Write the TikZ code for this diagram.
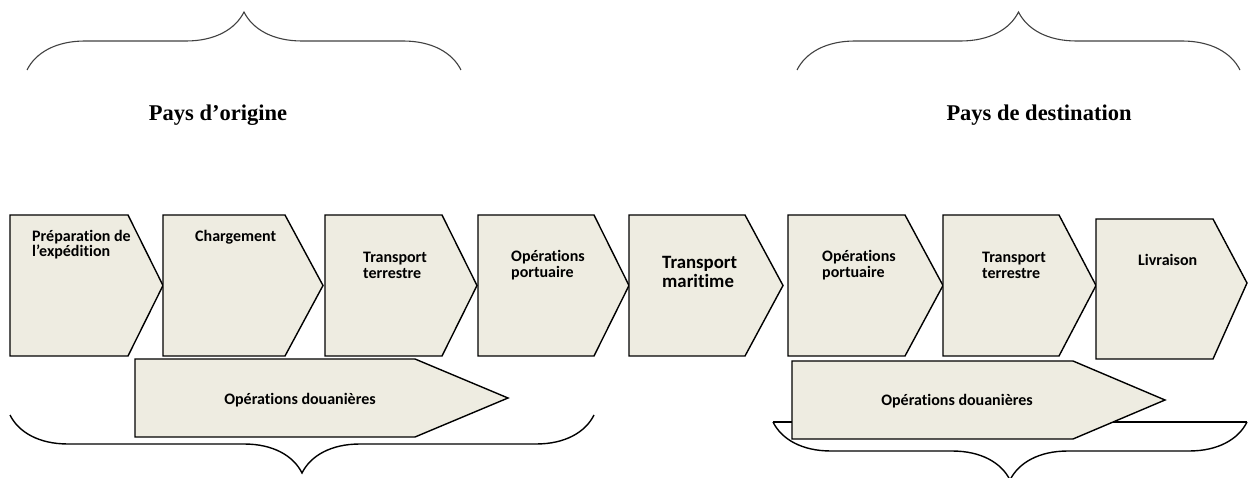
\documentclass[tikz,border=0pt]{standalone}
\usepackage{fontspec}
\setmainfont{Carlito}[Ligatures=NoCommon]
\newfontfamily\titlefont{Liberation Serif}
\usetikzlibrary{decorations.pathreplacing, backgrounds}
\definecolor{stagefill}{HTML}{EEECE1}

\begin{document}
\begin{tikzpicture}[x=1pt, y=-1pt]

    % --- Styles ---
    \tikzset{
        stage/.style={draw=black, fill=stagefill, line width=1.4pt, line join=miter},
        stagetext/.style={inner sep=0pt, align=left, font=\fontsize{16}{16}\selectfont\bfseries},
        bigtext/.style={inner sep=0pt, align=left, font=\fontsize{18.8}{19}\selectfont\bfseries},
        country/.style={inner sep=0pt, font=\fontsize{22.5}{26}\selectfont\titlefont\bfseries},
        bracket/.style={draw=black!75, line width=1.1pt, decorate, decoration={brace, amplitude=58pt}},
        lowbracket/.style={draw=black, line width=1.4pt, decorate, decoration={brace, amplitude=58pt}}
    }

    \useasboundingbox (0,0) rectangle (1248,478);

    % --- Accolades du haut ---
    \draw[bracket] (27,70) -- (461,70);
    \draw[bracket] (797,70) -- (1240,70);
    \node[country] (origin) at (218,115) {Pays d’origine};
    \node[country] (dest) at (1039,115) {Pays de destination};

    % --- Accolades du bas ---
    \draw[lowbracket] (594,415) -- (10,415);
    \draw[lowbracket] (1247,422) -- (773,422);
    \draw[draw=black, line width=1.4pt] (773,422) -- (1247,422);

    % --- Etapes ---
    \filldraw[stage] (10,215) -- (128,215) -- (163,285.5) -- (128,356) -- (10,356) -- cycle;
    \node[stagetext, anchor=west, font=\fontsize{16}{15}\selectfont\bfseries] (prep) at (32,244.5) {Préparation de\\l’expédition};

    \filldraw[stage] (163,215) -- (285,215) -- (323,285.5) -- (285,356) -- (163,356) -- cycle;
    \node[stagetext, anchor=west] (load) at (195,237) {Chargement};

    \filldraw[stage] (325,215) -- (442,215) -- (477,285.5) -- (442,356) -- (325,356) -- cycle;
    \node[stagetext, anchor=west] (land1) at (363,265) {Transport\\terrestre};

    \filldraw[stage] (478,215) -- (594,215) -- (629,285.5) -- (594,356) -- (478,356) -- cycle;
    \node[stagetext, anchor=west] (port1) at (511,265) {Opérations\\portuaire};

    \filldraw[stage] (629,215) -- (745,215) -- (783,285.5) -- (745,356) -- (629,356) -- cycle;
    \node[bigtext, anchor=west] (sea) at (662,271.5) {Transport\\maritime};

    \filldraw[stage] (788,215) -- (905,215) -- (943,285.5) -- (905,356) -- (788,356) -- cycle;
    \node[stagetext, anchor=west] (port2) at (822,265) {Opérations\\portuaire};

    \filldraw[stage] (943,215) -- (1059,215) -- (1096,285.5) -- (1059,356) -- (943,356) -- cycle;
    \node[stagetext, anchor=west] (land2) at (982,265) {Transport\\terrestre};

    \filldraw[stage] (1096,219) -- (1213,219) -- (1247,283) -- (1213,359) -- (1096,359) -- cycle;
    \node[stagetext, anchor=west] (deliv) at (1138,260) {Livraison};

    % --- Douane ---
    \filldraw[stage] (135,359) -- (415,359) -- (508,398) -- (415,437) -- (135,437) -- cycle;
    \node[stagetext] (customs1) at (300,400) {Opérations douanières};

    \filldraw[stage] (792,361) -- (1073,361) -- (1165,400) -- (1073,439) -- (792,439) -- cycle;
    \node[stagetext] (customs2) at (957,401) {Opérations douanières};

\end{tikzpicture}
\end{document}
